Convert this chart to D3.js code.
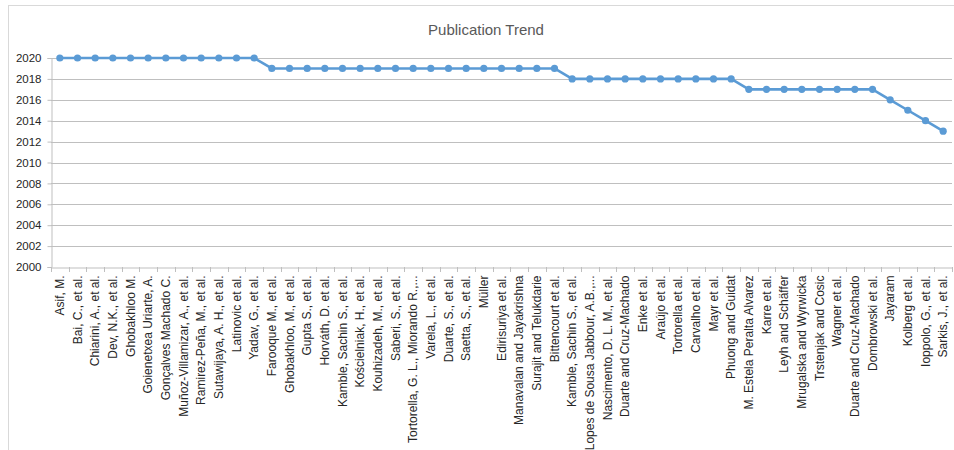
<!DOCTYPE html>
<html><head><meta charset="utf-8">
<script src="https://cdn.jsdelivr.net/npm/d3@7"></script>
<style>body{margin:0;background:#fff}svg{display:block}</style>
</head><body>
<svg id="c" width="954" height="450"></svg>
<script>
const title = "Publication Trend";
const authors = [
  "Asif, M.","Bai, C., et al.","Chiarini, A., et al.","Dev, N.K., et al.","Ghobakhloo M.",
  "Goienetxea Uriarte, A.","Gonçalves Machado C.","Muñoz-Villamizar, A., et al.","Ramirez-Peña, M., et al.",
  "Sutawijaya, A. H., et al.","Latinovic et al.","Yadav, G., et al.","Farooque M., et al.",
  "Ghobakhloo, M., et al.","Gupta S., et al.","Horváth, D. et al.","Kamble, Sachin S., et al.",
  "Kościelniak, H., et al.","Kouhizadeh, M., et al.","Saberi, S., et al.","Tortorella, G. L., Miorando R.,...",
  "Varela, L., et al.","Duarte, S., et al.","Saetta, S., et al.","Müller","Edirisuriya et al.",
  "Manavalan and Jayakrishna","Surajit and Telukdarie","Bittencourt et al.","Kamble, Sachin S., et al.",
  "Lopes de Sousa Jabbour, A.B.,...","Nascimento, D. L. M., et al.","Duarte and Cruz-Machado","Enke et al.",
  "Araújo et al.","Tortorella et al.","Carvalho et al.","Mayr et al.","Phuong and Guidat",
  "M. Estela Peralta  Alvarez","Karre et al.","Leyh and Schäffer","Mrugalska and Wyrwicka",
  "Trstenjak and Cosic","Wagner et al.","Duarte and Cruz-Machado","Dombrowski et al.","Jayaram",
  "Kolberg et al.","Ioppolo, G., et al.","Sarkis, J., et al."
];
const years = [
  2020,2020,2020,2020,2020,2020,2020,2020,2020,2020,2020,2020,
  2019,2019,2019,2019,2019,2019,2019,2019,2019,2019,2019,2019,2019,2019,2019,2019,2019,
  2018,2018,2018,2018,2018,2018,2018,2018,2018,2018,
  2017,2017,2017,2017,2017,2017,2017,2017,
  2016,2015,2014,2013
];
const yTicks = [2000,2002,2004,2006,2008,2010,2012,2014,2016,2018,2020];

(function(){
const svg = d3.select("#c");
const font = "'Liberation Sans', Arial, sans-serif";
const idx = authors.map((d,i)=>i);
const pl = 51, pr = 952, pt = 58, pb = 267;

svg.append("rect").attr("x",8.5).attr("y",5.5).attr("width",960).attr("height",460)
  .attr("fill","#fff").attr("stroke","#d9d9d9");

const x = d3.scaleBand().domain(idx).range([pl,pr]);
const y = d3.scaleLinear().domain([2000,2020]).range([pb,pt]);

svg.append("g").selectAll("line").data(yTicks.slice(1)).join("line")
  .attr("x1",pl).attr("x2",pr).attr("y1",d=>Math.round(y(d))+0.5).attr("y2",d=>Math.round(y(d))+0.5)
  .attr("stroke","#bfbfbf").attr("stroke-width",1);

const ya = svg.append("g").attr("transform",`translate(${pl+0.5},0)`)
  .call(d3.axisLeft(y).tickValues(yTicks).tickFormat(d3.format("d")).tickSize(4).tickPadding(6));
ya.select(".domain").attr("stroke","#bfbfbf");
ya.selectAll(".tick line").attr("stroke","#bfbfbf");
ya.selectAll("text").attr("font-family",font).attr("font-size",11.5).attr("fill","#262626");

const xa = svg.append("g").attr("transform",`translate(0,${Math.round(pb)+0.5})`)
  .call(d3.axisBottom(x).tickSize(0).tickFormat(i=>authors[i]));
xa.select(".domain").attr("stroke","#bfbfbf");
xa.selectAll(".tick text").attr("font-family",font).attr("font-size",12).attr("fill","#262626")
  .attr("text-anchor","end").attr("transform","rotate(-90)").attr("x",-8).attr("y",0).attr("dy","0.35em");
svg.append("g").selectAll("line").data(d3.range(authors.length+1)).join("line")
  .attr("x1",i=>Math.round(pl + i*x.step())+0.5).attr("x2",i=>Math.round(pl + i*x.step())+0.5)
  .attr("y1",Math.round(pb)).attr("y2",Math.round(pb)+5).attr("stroke","#bfbfbf");

const cx = i=>x(i)+x.bandwidth()/2;
svg.append("path").datum(idx)
  .attr("d",d3.line().x(cx).y(i=>y(years[i])))
  .attr("fill","none").attr("stroke","#5b9bd5").attr("stroke-width",2.6).attr("stroke-linejoin","round");
svg.append("g").selectAll("circle").data(idx).join("circle")
  .attr("cx",cx).attr("cy",i=>y(years[i])).attr("r",3.6).attr("fill","#5b9bd5");

svg.append("text").attr("x",486).attr("y",35).attr("text-anchor","middle")
  .attr("font-family",font).attr("font-size",15).attr("fill","#595959").text(title);
})();
</script>
</body></html>
